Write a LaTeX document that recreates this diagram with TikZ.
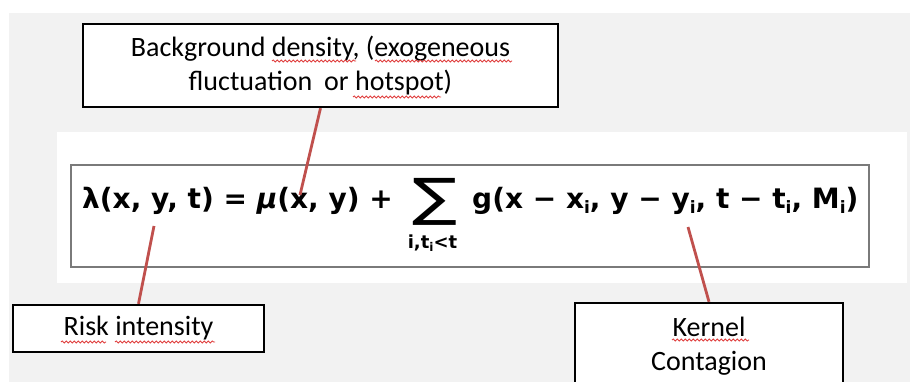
\documentclass[tikz,border=0pt]{standalone}
\usepackage{fontspec}
\usetikzlibrary{decorations.pathmorphing}
\setmainfont{Carlito}
\newfontfamily\eqfont{DejaVu Sans}
\definecolor{bggray}{HTML}{F2F2F2}
\definecolor{linkred}{HTML}{C0504D}
\definecolor{framegray}{HTML}{7A7A7A}
\definecolor{squigred}{HTML}{E0403F}
\newcommand\lowi{\raisebox{-5pt}{\fontsize{17}{17}\selectfont i}}
\begin{document}
\begin{tikzpicture}[x=1pt,y=1pt,
  lbl/.style={draw=black, line width=2.4pt, fill=white, align=center,
    font=\fontsize{28}{34}\selectfont, inner sep=0pt},
  eqt/.style={inner sep=0pt, anchor=base west, font=\eqfont\bfseries\fontsize{28}{33}\selectfont},
  link/.style={draw=linkred, line width=2.8pt},
  squig/.style={draw=squigred, line width=0.8pt, decorate,
    decoration={snake, amplitude=1.1pt, segment length=4pt}}]
\clip (0,0) rectangle (910,-382);
\fill[white] (0,0) rectangle (910,-382);
\fill[bggray] (9,-13) rectangle (910,-382);
\fill[white] (57,-132) rectangle (907,-283);
\draw[framegray, line width=1.6pt] (71,-165) rectangle (869,-267);
% equation
\node[eqt] (eqL) at (82,-209) {λ(x, y, t) = {\itshape μ}(x, y) +};
\node[inner sep=0pt] (sum) at (434.5,-201.5) {\resizebox*{45pt}{47pt}{\eqfont ∑}};
\node[inner sep=0pt, font=\eqfont\bfseries\fontsize{18}{18}\selectfont] (sumsub) at (432.5,-243.5)
  {i,t\raisebox{-3pt}{\fontsize{12}{12}\selectfont i}<t};
\node[eqt] (eqR) at (472,-209) {g(x − x\lowi, y − y\lowi, t − t\lowi, M\lowi)};
% label boxes
\node[lbl, minimum width=475pt, minimum height=83pt] (bg) at (320.5,-65.5)
  {Background density, (exogeneous\\fluctuation\hspace{0.2em} or hotspot)};
\node[lbl, minimum width=251pt, minimum height=47pt] (risk) at (138.5,-328.5)
  {Risk intensity};
\node[lbl, minimum width=268pt, minimum height=86pt] (kern) at (709,-346)
  {Kernel\\Contagion};
% spell-check squiggles
\draw[squig] (272,-61) -- (356,-61);
\draw[squig] (375,-61) -- (512,-61);
\draw[squig] (353,-97) -- (441,-97);
\draw[squig] (61,-342) -- (106,-342);
\draw[squig] (115,-342) -- (215,-342);
\draw[squig] (672,-340) -- (749,-340);
% connectors
\coordinate (pMu) at (300,-195);
\coordinate (pLam) at (154,-226);
\coordinate (pKer) at (688,-227);
\draw[link] (bg.south) -- (pMu);
\draw[link] (pLam) -- (risk.north);
\draw[link] (pKer) -- (kern.north);
\end{tikzpicture}
\end{document}
